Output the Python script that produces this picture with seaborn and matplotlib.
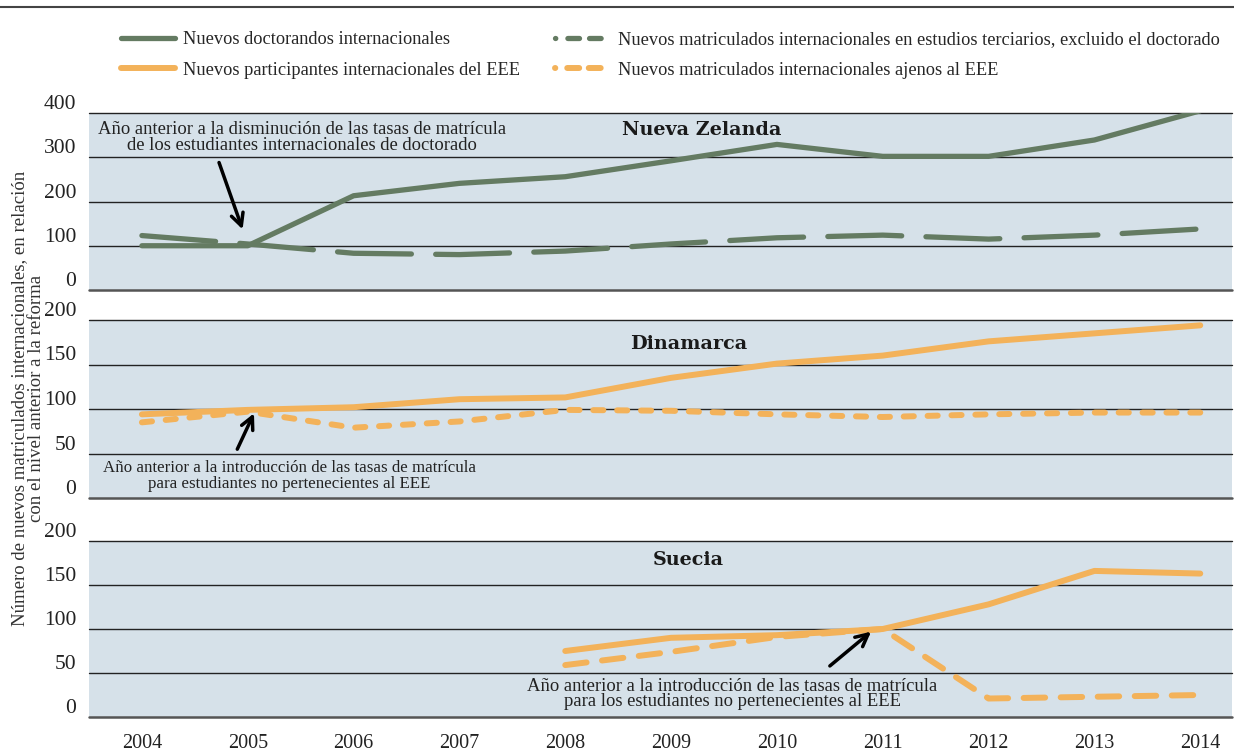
import matplotlib
matplotlib.use("Agg")
import matplotlib.pyplot as plt
import matplotlib.transforms as mtransforms
from matplotlib.lines import Line2D
import seaborn as sns
import pandas as pd

# values (index, pre-reform year = 100)
years = list(range(2004, 2015))
nz_doct = [100, 100, 213, 241, 256, 292, 329, 302, 302, 339, 405]
nz_terc = [123, 104, 83, 80, 88, 104, 118, 124, 115, 124, 138]
dk_eee = [94, 99, 102, 111, 113, 135, 151, 160, 176, 185, 194]
dk_non = [85, 97, 79, 86, 99, 98, 94, 91, 94, 96, 96]
se_years = list(range(2008, 2015))
se_eee = [75, 90, 93, 100, 128, 166, 163]
se_non = [59, 74, 91, 100, 21, 23, 25]

green = "#647b62"
orange = "#f3b25a"
panel_bg = "#d6e1e9"

sns.set_style("white")
plt.rcParams["font.family"] = ["Liberation Serif", "DejaVu Serif"]

W, H = 1234, 751
fig = plt.figure(figsize=(W / 100, H / 100), dpi=100)


def frac_box(top, bottom, left=89, right=1232):
    return [left / W, 1 - bottom / H, (right - left) / W, (bottom - top) / H]


ax1 = fig.add_axes(frac_box(113, 290))
ax2 = fig.add_axes(frac_box(320, 498))
ax3 = fig.add_axes(frac_box(541, 717))

# lines
nz = pd.DataFrame({"year": years, "doct": nz_doct, "terc": nz_terc})
dk = pd.DataFrame({"year": years, "eee": dk_eee, "non": dk_non})
se = pd.DataFrame({"year": se_years, "eee": se_eee, "non": se_non})

sns.lineplot(data=nz, x="year", y="terc", ax=ax1, color=green, lw=3.8)
ax1.lines[-1].set_dashes([14, 4.6])
sns.lineplot(data=nz, x="year", y="doct", ax=ax1, color=green, lw=3.8)

sns.lineplot(data=dk, x="year", y="non", ax=ax2, color=orange, lw=4.3)
ax2.lines[-1].set_dashes([1.7, 2.3])
sns.lineplot(data=dk, x="year", y="eee", ax=ax2, color=orange, lw=4.3)

sns.lineplot(data=se, x="year", y="non", ax=ax3, color=orange, lw=4.3)
ax3.lines[-1].set_dashes([3.6, 2.6])
sns.lineplot(data=se, x="year", y="eee", ax=ax3, color=orange, lw=4.3)

for ax in (ax1, ax2, ax3):
    for ln in ax.lines:
        ln.set_solid_capstyle("round")
        ln.set_dash_capstyle("round")

offset = mtransforms.ScaledTranslation(0, 11 / 100, fig.dpi_scale_trans)
panels = [(ax1, 400, [0, 100, 200, 300, 400]),
          (ax2, 200, [0, 50, 100, 150, 200]),
          (ax3, 200, [0, 50, 100, 150, 200])]
for ax, top, ticks in panels:
    ax.set_facecolor(panel_bg)
    ax.set_xlim(2003.5, 2014.3)
    ax.set_ylim(0, top)
    for s in ax.spines.values():
        s.set_visible(False)
    for t in ticks:
        if t == 0:
            ax.axhline(t, color="#555555", lw=1.8, zorder=1, clip_on=False)
        else:
            ax.axhline(t, color="#222222", lw=1.0, zorder=1, clip_on=False)
    ax.set_yticks(ticks)
    ax.set_yticklabels([str(t) for t in ticks])
    ax.tick_params(axis="y", length=0, pad=9, labelsize=15.5, labelcolor="#222222")
    for lab in ax.get_yticklabels():
        lab.set_transform(lab.get_transform() + offset)
    ax.set_xlabel("")
    ax.set_ylabel("")
    ax.set_xticks(years)
    ax.grid(False)

ax1.tick_params(axis="x", labelbottom=False, length=0)
ax2.tick_params(axis="x", labelbottom=False, length=0)
ax3.set_xticklabels([str(y) for y in years])
ax3.tick_params(axis="x", length=0, pad=12, labelsize=14.5, labelcolor="#222222")

# panel titles
title_kw = dict(ha="center", va="center", fontsize=13.8, fontweight="bold",
                family=["DejaVu Serif"], color="#1a1a1a")
ax1.text(2009.29, 362, "Nueva Zelanda", **title_kw)
ax2.text(2009.17, 173, "Dinamarca", **title_kw)
ax3.text(2009.16, 178, "Suecia", **title_kw)

# annotations
note_kw = dict(ha="center", va="center", fontsize=13.4, linespacing=0.88, color="#222222")
arrow = dict(arrowstyle="->", color="black", lw=2.5, mutation_scale=22)

ax1.text(2005.51, 345, "Año anterior a la disminución de las tasas de matrícula\n"
         "de los estudiantes internacionales de doctorado", **note_kw)
ax1.annotate("", xy=(2004.96, 131), xytext=(2004.72, 294), arrowprops=arrow)

ax2.text(2005.39, 25, "Año anterior a la introducción de las tasas de matrícula\n"
         "para estudiantes no pertenecientes al EEE",
         **{**note_kw, "fontsize": 12.2, "linespacing": 1.0})
ax2.annotate("", xy=(2005.07, 98), xytext=(2004.89, 52), arrowprops=arrow)

ax3.text(2009.58, 26, "Año anterior a la introducción de las tasas de matrícula\n"
         "para los estudiantes no pertenecientes al EEE", **note_kw)
ax3.annotate("", xy=(2010.91, 99), xytext=(2010.48, 56), arrowprops=arrow)

# y label
fig.text(28 / W, 1 - 398 / H,
         "Número de nuevos matriculados internacionales, en relación\n"
         "con el nivel anterior a la reforma",
         rotation=90, ha="center", va="center", fontsize=13.5, linespacing=1.05,
         color="#333333")

# top rule
fig.add_artist(Line2D([0, 1], [1 - 7 / H, 1 - 7 / H], transform=fig.transFigure,
                      color="#444444", lw=1.5))

# legend
handles = [
    Line2D([], [], color=green, lw=3.8, solid_capstyle="round"),
    Line2D([], [], color=orange, lw=4.3, solid_capstyle="round"),
    Line2D([], [], color=green, lw=3.8, dash_capstyle="round",
           dashes=[0.05, 2.3, 2.2, 1.9, 2.2, 1.9]),
    Line2D([], [], color=orange, lw=4.3, dash_capstyle="round",
           dashes=[0.05, 2.0, 2.0, 1.6, 2.0, 1.6]),
]
labels = [
    "Nuevos doctorandos internacionales",
    "Nuevos participantes internacionales del EEE",
    "Nuevos matriculados internacionales en estudios terciarios, excluido el doctorado",
    "Nuevos matriculados internacionales ajenos al EEE",
]
fig.legend(handles, labels, ncol=2, loc="upper left",
           bbox_to_anchor=(121 / W, 1 - 31 / H), frameon=False, fontsize=13.2,
           handlelength=2.95, handletextpad=0.45, columnspacing=1.9,
           labelspacing=0.75, borderpad=0, borderaxespad=0)

fig.savefig("out.png", dpi=100)
